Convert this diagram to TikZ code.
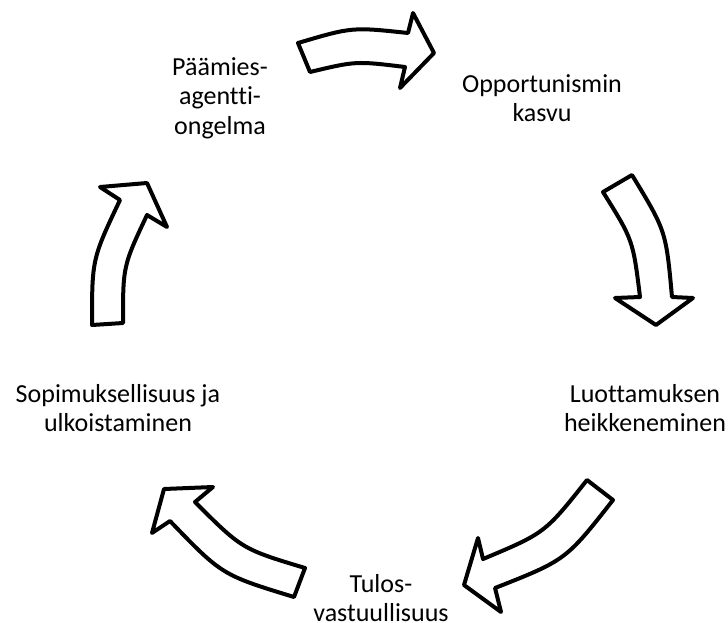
\documentclass[tikz,border=0pt]{standalone}
\usepackage{fontspec}
\setmainfont{Carlito}[Ligatures=NoCommon]
\usetikzlibrary{positioning}

\begin{document}
\begin{tikzpicture}[x=1pt,y=-1pt,
    lbl/.style={align=center,font=\fontsize{26}{29.5}\selectfont,inner sep=0pt},
    blockarrow/.style={draw=black,fill=white,line width=4pt,line join=round}]
    \useasboundingbox (0,0) rectangle (728,622);
    % the five stages
    \node[lbl] (P) at (220,98) {Päämies-\\agentti-\\ongelma};
    \node[lbl] (O) at (542,98) {Opportunismin\\kasvu};
    \node[lbl] (L) at (645,408) {Luottamuksen\\heikkeneminen};
    \node[lbl] (T) at (381,598) {Tulos-\\vastuullisuus};
    \node[lbl] (S) at (118,408) {Sopimuksellisuus ja\\ulkoistaminen};
    % curved block arrows
    \draw[blockarrow] (298,43) .. controls (352,27) .. (408,33) -- (413,13) -- (434,53)
        -- (400,88) -- (405,67) .. controls (356,61) .. (310,72) -- cycle;
    \draw[blockarrow] (632,175) .. controls (666,231) .. (672,297) -- (693,298) -- (656,325)
        -- (615,298) -- (640,297) .. controls (633,240) .. (603,192) -- cycle;
    \draw[blockarrow] (613,500) .. controls (566,560) .. (495,588) -- (501,612) -- (464,585)
        -- (478,538) -- (483,559) .. controls (545,533) .. (587,480) -- cycle;
    \draw[blockarrow] (305,568) .. controls (242,549) .. (195,502) -- (213,487) -- (164,489)
        -- (152,533) -- (170,521) .. controls (222,575) .. (294,597) -- cycle;
    \draw[blockarrow] (92,325) .. controls (92,259) .. (120,200) -- (100,187) -- (147,183)
        -- (167,227) -- (147,215) .. controls (123,266) .. (123,323) -- cycle;
\end{tikzpicture}
\end{document}
